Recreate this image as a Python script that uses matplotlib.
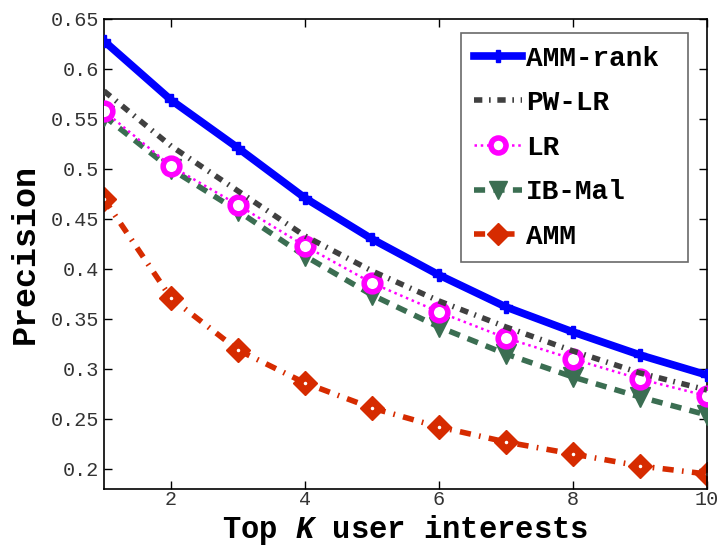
import matplotlib
matplotlib.use("Agg")
import matplotlib.pyplot as plt

K = [1, 2, 3, 4, 5, 6, 7, 8, 9, 10]
amm_rank = [0.628, 0.569, 0.521, 0.471, 0.430, 0.394, 0.362, 0.337, 0.314, 0.294]
pw_lr = [0.578, 0.523, 0.478, 0.433, 0.398, 0.368, 0.342, 0.318, 0.296, 0.279]
lr = [0.558, 0.503, 0.464, 0.423, 0.386, 0.357, 0.331, 0.310, 0.290, 0.273]
ib_mal = [0.553, 0.500, 0.458, 0.413, 0.374, 0.342, 0.315, 0.292, 0.272, 0.254]
amm = [0.470, 0.371, 0.319, 0.286, 0.261, 0.242, 0.227, 0.215, 0.203, 0.195]
xticks = [2, 4, 6, 8, 10]
yticks = [0.2, 0.25, 0.3, 0.35, 0.4, 0.45, 0.5, 0.55, 0.6, 0.65]
ytick_labels = ["0.2", "0.25", "0.3", "0.35", "0.4", "0.45", "0.5", "0.55", "0.6", "0.65"]

mono = "Liberation Mono"
plt.rcParams["mathtext.fontset"] = "custom"
plt.rcParams["mathtext.it"] = "Liberation Mono:italic:bold"
plt.rcParams["mathtext.rm"] = "Liberation Mono:bold"
plt.rcParams["mathtext.bf"] = "Liberation Mono:bold"

fig = plt.figure(figsize=(7.19, 5.47), dpi=100)
ax = fig.add_axes([104/719, 1-489/547, (707-104)/719, (489-19)/547])

ax.plot(K, amm_rank, color="#0000ff", lw=5.5, ls="-", marker="P", ms=9,
        label="AMM-rank", zorder=6)
ax.plot(K, pw_lr, color="#404040", lw=4, ls=(0, (1.5, 1.2, 0.3, 1.2)),
        label="PW-LR", zorder=5)
ax.plot(K, lr, color="#ff00ff", lw=1.8, ls=(0, (1, 1.5)), marker="o", ms=12,
        mfc="white", mec="#ff00ff", mew=4, label="LR", zorder=4)
ax.plot(K, ib_mal, color="#3b6e52", lw=4, ls=(0, (2, 1.5)), marker="v", ms=15,
        mfc="#3b6e52", mec="#3b6e52", label="IB-Mal", zorder=3)
ax.plot(K, amm, color="#d62b00", lw=4, ls=(0, (2, 1.5, 0.3, 1.5)), marker="D",
        ms=12, mfc="#d62b00", mec="#d62b00", label="AMM", zorder=2)
ax.plot(K, amm, ls="none", marker=".", ms=3, color="white", zorder=2.5)

ax.set_xlim(1, 10)
ax.set_ylim(0.18, 0.65)
ax.set_xticks(xticks)
ax.set_yticks(yticks)
ax.set_yticklabels(ytick_labels)
ax.tick_params(direction="in", top=True, right=True, length=6, width=1,
               labelsize=14.5, labelcolor="#333333")
ax.tick_params(axis="x", pad=1)
for lab in ax.get_xticklabels() + ax.get_yticklabels():
    lab.set_family(mono)
for s in ax.spines.values():
    s.set_linewidth(1.2)

ax.set_xlabel(r"Top $\mathit{K}$ user interests", fontsize=22,
              family=mono, fontweight="bold", va="bottom")
ax.xaxis.set_label_coords(405 / 719, 0.0, transform=fig.transFigure)
ax.set_ylabel("Precision", fontsize=24, family=mono, fontweight="bold")
ax.yaxis.set_label_coords(-0.105, 0.5)

x0 = (461 - 104) / 603
w = (688 - 461) / 603
top = (489 - 33) / 470
leg = ax.legend(loc="upper right", bbox_to_anchor=(x0, top - 0.5, w, 0.5),
                mode="expand", borderaxespad=0,
                prop={"family": mono, "weight": "bold", "size": 20},
                handlelength=1.75, handletextpad=0.15, labelspacing=0.67,
                borderpad=0.45, fancybox=False, edgecolor="#444444",
                markerscale=0.9)
leg.get_frame().set_linewidth(1.2)

fig.savefig("out.png", dpi=100)
